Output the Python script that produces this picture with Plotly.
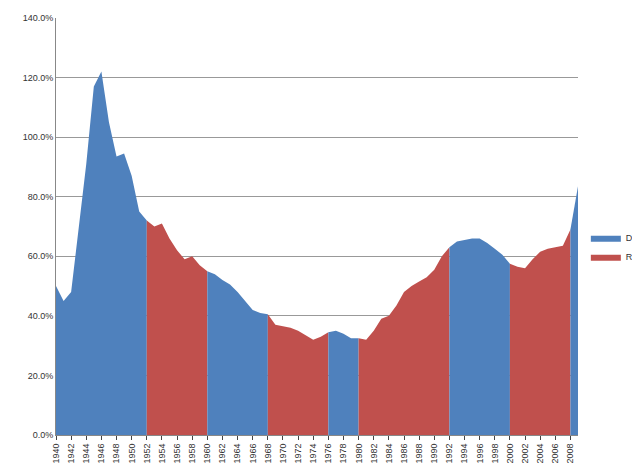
import plotly.graph_objects as go

years = list(range(1940, 2010))
debt = [50, 45, 48, 70, 91, 117, 122, 105, 93.5, 94.5, 87, 75, 72, 70, 71, 66, 62, 59, 60, 57,
        55, 54, 52, 50.5, 48, 45, 42, 41, 40.5, 37, 36.5, 36, 35, 33.5, 32, 33, 34.5, 35, 34, 32.5,
        32.5, 32, 35, 39, 40, 43.5, 48, 50, 51.5, 53, 55.5, 60, 63, 65, 65.5, 66, 66, 64.5, 62.5, 60.5,
        57.5, 56.5, 56, 59, 61.5, 62.5, 63, 63.5, 69, 83.5]
# (start, end, party)
terms = [(1940, 1952, "Democrat"), (1952, 1960, "Republican"), (1960, 1968, "Democrat"),
         (1968, 1976, "Republican"), (1976, 1980, "Democrat"), (1980, 1992, "Republican"),
         (1992, 2000, "Democrat"), (2000, 2008, "Republican"), (2008, 2009, "Democrat")]
colors = {"Democrat": "#4F81BD", "Republican": "#C0504D"}

fig = go.Figure()
shown = set()
for a, b, party in terms:
    i0, i1 = years.index(a), years.index(b)
    fig.add_trace(go.Scatter(
        x=years[i0:i1 + 1], y=debt[i0:i1 + 1], mode="lines", fill="tozeroy",
        line=dict(width=0, color=colors[party]), fillcolor=colors[party],
        name=party, legendgroup=party, showlegend=party not in shown))
    shown.add(party)

fig.update_layout(
    width=640, height=465, plot_bgcolor="white", paper_bgcolor="white",
    margin=dict(l=48, r=0, t=10, b=38, autoexpand=False),
    font=dict(family="Liberation Sans", size=9, color="#333"),
    legend=dict(x=0.895, y=0.45, yanchor="middle", traceorder="normal",
                itemwidth=30, font=dict(size=9)),
    xaxis=dict(domain=[0, 522 / 592], range=[1940, 2009], tickvals=list(range(1940, 2010, 2)),
               tickangle=-90, showgrid=False, showline=True, linecolor="#888",
               ticks="outside", ticklen=4),
    yaxis=dict(range=[0, 140], dtick=20, ticksuffix="%", tickformat=".1f",
               showgrid=True, gridcolor="#999", gridwidth=1, showline=True, linecolor="#888",
               zeroline=False),
)
fig.write_html("out.html")
